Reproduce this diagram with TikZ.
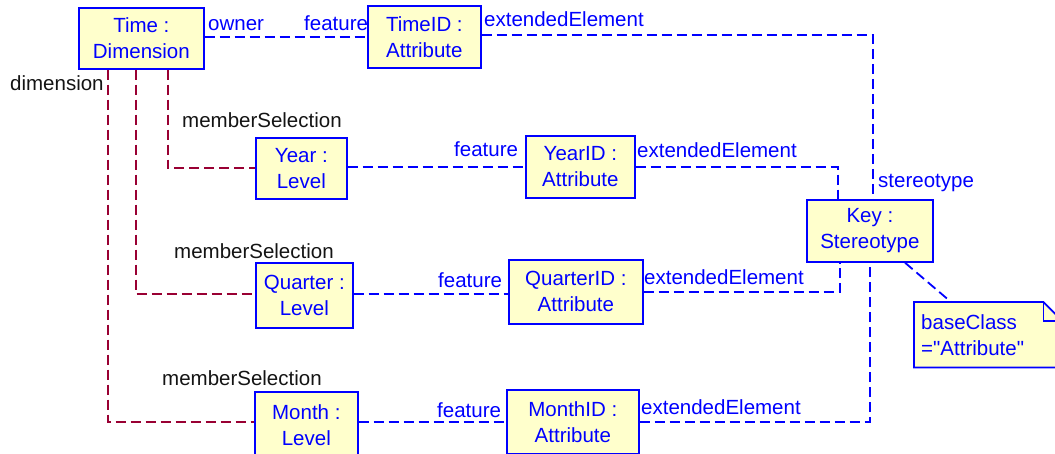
\documentclass[tikz,border=0pt]{standalone}
\usepackage{fontspec}
\setmainfont{Liberation Sans}
\usetikzlibrary{calc}
\definecolor{umlblue}{RGB}{0,0,255}
\definecolor{umlred}{RGB}{153,0,51}
\definecolor{umlfill}{RGB}{255,255,204}
\definecolor{umltext}{RGB}{20,20,20}
% straight double quote, bypassing the TeX ligature mapping
\newcommand\straightdq{\XeTeXglyph\XeTeXcharglyph"22\relax}

\begin{document}
\begin{tikzpicture}[x=1pt,y=-1pt,
  obj/.style={draw=umlblue, fill=umlfill, line width=1.7pt, text=umlblue,
    inner sep=0pt, anchor=north west, align=center,
    font=\fontsize{20.5}{26}\selectfont},
  lbl/.style={inner sep=0pt, anchor=base west, font=\fontsize{20.5}{24}\selectfont},
  blbl/.style={lbl, text=umlblue},
  klbl/.style={lbl, text=umltext},
  bdash/.style={draw=umlblue, line width=1.8pt, dash pattern=on 10pt off 5pt},
  rdash/.style={draw=umlred, line width=1.8pt, dash pattern=on 10pt off 5pt}
]
\useasboundingbox (0,0) rectangle (1055,454);
\clip (0,0) rectangle (1055,454);

% objects
\node[obj, minimum width=125, minimum height=61] (time)      at (78,7)    {Time :\\Dimension};
\node[obj, minimum width=113, minimum height=62] (timeid)    at (367,5)   {TimeID :\\Attribute};
\node[obj, minimum width=91,  minimum height=61] (year)      at (255,137) {Year :\\Level};
\node[obj, minimum width=109, minimum height=62] (yearid)    at (525,135) {YearID :\\Attribute};
\node[obj, minimum width=97,  minimum height=65] (quarter)   at (255,262) {Quarter :\\Level};
\node[obj, minimum width=134, minimum height=64] (quarterid) at (508,259) {QuarterID :\\Attribute};
\node[obj, minimum width=103, minimum height=67] (month)     at (254,391) {Month :\\Level};
\node[obj, minimum width=132, minimum height=64] (monthid)   at (506,389) {MonthID :\\Attribute};
\node[obj, minimum width=126, minimum height=62] (key)       at (806,199) {Key :\\Stereotype};

% note with folded corner
\node[inner sep=0pt, anchor=north west, minimum width=148, minimum height=65] (note) at (914,302) {};
\filldraw[draw=umlblue, fill=umlfill, line width=1.7pt]
  (note.north west) -- ($(note.north east)+(-19,0)$) -- ($(note.north east)+(0,19)$)
  -- (note.south east) -- (note.south west) -- cycle;
\draw[umlblue, line width=1.7pt]
  ($(note.north east)+(-19,0)$) -- ($(note.north east)+(-19,19)$) -- ($(note.north east)+(0,19)$);
\node[inner sep=0pt, inner xsep=7pt, anchor=north west, minimum width=148,
      minimum height=65, text width=134pt, align=left, text=umlblue,
      font=\fontsize{20.5}{26}\selectfont] (notetext) at (note.north west)
      {baseClass\\=\straightdq Attribute\straightdq};

% feature links
\draw[bdash] (time.east |- 0,37) -- (timeid.west |- 0,37);
\draw[bdash] (year.east |- yearid.west) -- (yearid.west);
\draw[bdash] (quarter.east |- 0,294) -- (quarterid.west |- 0,294);
\draw[bdash] (month.east |- monthid.west) -- (monthid.west);

% extendedElement links to the stereotype
\draw[bdash] (timeid.east |- 0,35) -| ($(key.north)+(3,0)$);
\draw[bdash] (yearid.east) -| ($(key.north west)+(32,0)$);
\draw[bdash] (quarterid.east) -| ($(key.south west)+(34,0)$);
\draw[bdash] (monthid.east) -| ($(key.south west)+(64,0)$);

% baseClass note link
\draw[bdash] ($(key.south west)+(99,0)$) -- ($(note.north west)+(37,0)$);

% memberSelection links
\draw[rdash] ($(time.south west)+(90,0)$) |- (year.west);
\draw[rdash] ($(time.south west)+(58,0)$) |- (quarter.west |- 0,294);
\draw[rdash] ($(time.south west)+(30,0)$) |- (month.west |- 0,422);

% role labels
\node[blbl] (lowner)  at (208,31)  {owner};
\node[blbl] (lfeat1)  at (304,31)  {feature};
\node[blbl] (lext1)   at (484,27)  {extendedElement};
\node[klbl] (ldim)    at (10,91)   {dimension};
\node[klbl] (lms1)    at (182,128) {memberSelection};
\node[blbl] (lfeat2)  at (454,157) {feature};
\node[blbl] (lext2)   at (637,158) {extendedElement};
\node[blbl] (lster)   at (878,188) {stereotype};
\node[klbl] (lms2)    at (174,259) {memberSelection};
\node[blbl] (lfeat3)  at (438,288) {feature};
\node[blbl] (lext3)   at (644,285) {extendedElement};
\node[klbl] (lms3)    at (162,385) {memberSelection};
\node[blbl] (lfeat4)  at (437,417) {feature};
\node[blbl] (lext4)   at (641,414) {extendedElement};
\end{tikzpicture}
\end{document}
